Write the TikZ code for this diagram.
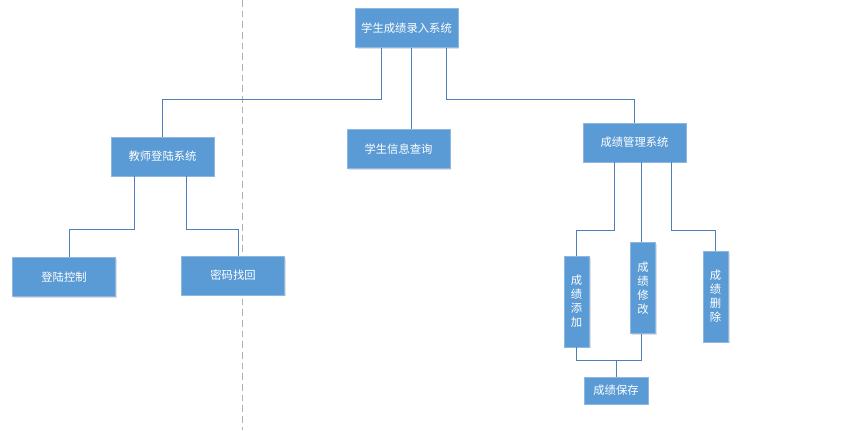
\documentclass[tikz,border=0pt]{standalone}
\usepackage{fontspec}
\setmainfont{Noto Sans CJK SC}
\usetikzlibrary{positioning,shadows}
\definecolor{boxblue}{HTML}{5B9BD5}
\definecolor{boxedge}{HTML}{8DB8E4}
\definecolor{linkblue}{HTML}{4F7FB8}

\begin{document}
\begin{tikzpicture}[x=0.75pt,y=-0.75pt,
  box/.style={draw=boxedge,fill=boxblue,text=white,font=\fontsize{8.5}{10.5}\selectfont,
    inner sep=0pt,drop shadow={opacity=0.25,shadow xshift=1pt,shadow yshift=-1pt}},
  wide/.style={box,minimum width=77pt,minimum height=29pt},
  tall/.style={box,minimum width=19pt,minimum height=68pt,align=center},
  link/.style={draw=linkblue,line width=0.7pt}]
\useasboundingbox (0,0) rectangle (848,430);
\draw[gray!60,dash pattern=on 5pt off 3pt,line width=0.6pt] (242,0) -- (242,430);
\node[wide] (n0) at (406.5,28) {学生成绩录入系统};
\node[wide] (n1) at (162.5,156.5) {教师登陆系统};
\node[wide] (n2) at (398.5,149) {学生信息查询};
\node[wide] (n3) at (634.5,142.5) {成绩管理系统};
\node[wide] (n4) at (64,277) {登陆控制};
\node[wide] (n5) at (233,275.5) {密码找回};
\node[tall] (n6) at (576.5,301.5) {成\\绩\\添\\加};
\node[tall] (n7) at (643,288) {成\\绩\\修\\改};
\node[tall] (n8) at (715.5,296.5) {成\\绩\\删\\除};
\node[box,minimum width=48pt,minimum height=20pt] (n9) at (616,390.5) {成绩保存};
\coordinate (c0) at ([xshift=4pt]n0.south);
\coordinate (c3) at ([xshift=5pt]n3.south);
\draw[link] ([xshift=-19pt]n0.south) -- ++(0,52) -| (n1.north);
\draw[link] (c0) -- (c0 |- n2.north);
\draw[link] ([xshift=30pt]n0.south) -- ++(0,52) -| (n3.north);
\draw[link] ([xshift=-21pt]n1.south) -- ++(0,53) -| ([xshift=3.75pt]n4.north);
\draw[link] ([xshift=18pt]n1.south) -- ++(0,53) -| ([xshift=3.75pt]n5.north);
\draw[link] ([xshift=-15pt]n3.south) -- ++(0,68) -| (n6.north);
\draw[link] (c3) -- (c3 |- n7.north);
\draw[link] ([xshift=28pt]n3.south) -- ++(0,68) -| (n8.north);
\draw[link] (n6.south) -- ++(0,13) -| ([xshift=-1.5pt]n7.south);
\draw[link] (n9.north) -- ++(0,-17);
\end{tikzpicture}
\end{document}
